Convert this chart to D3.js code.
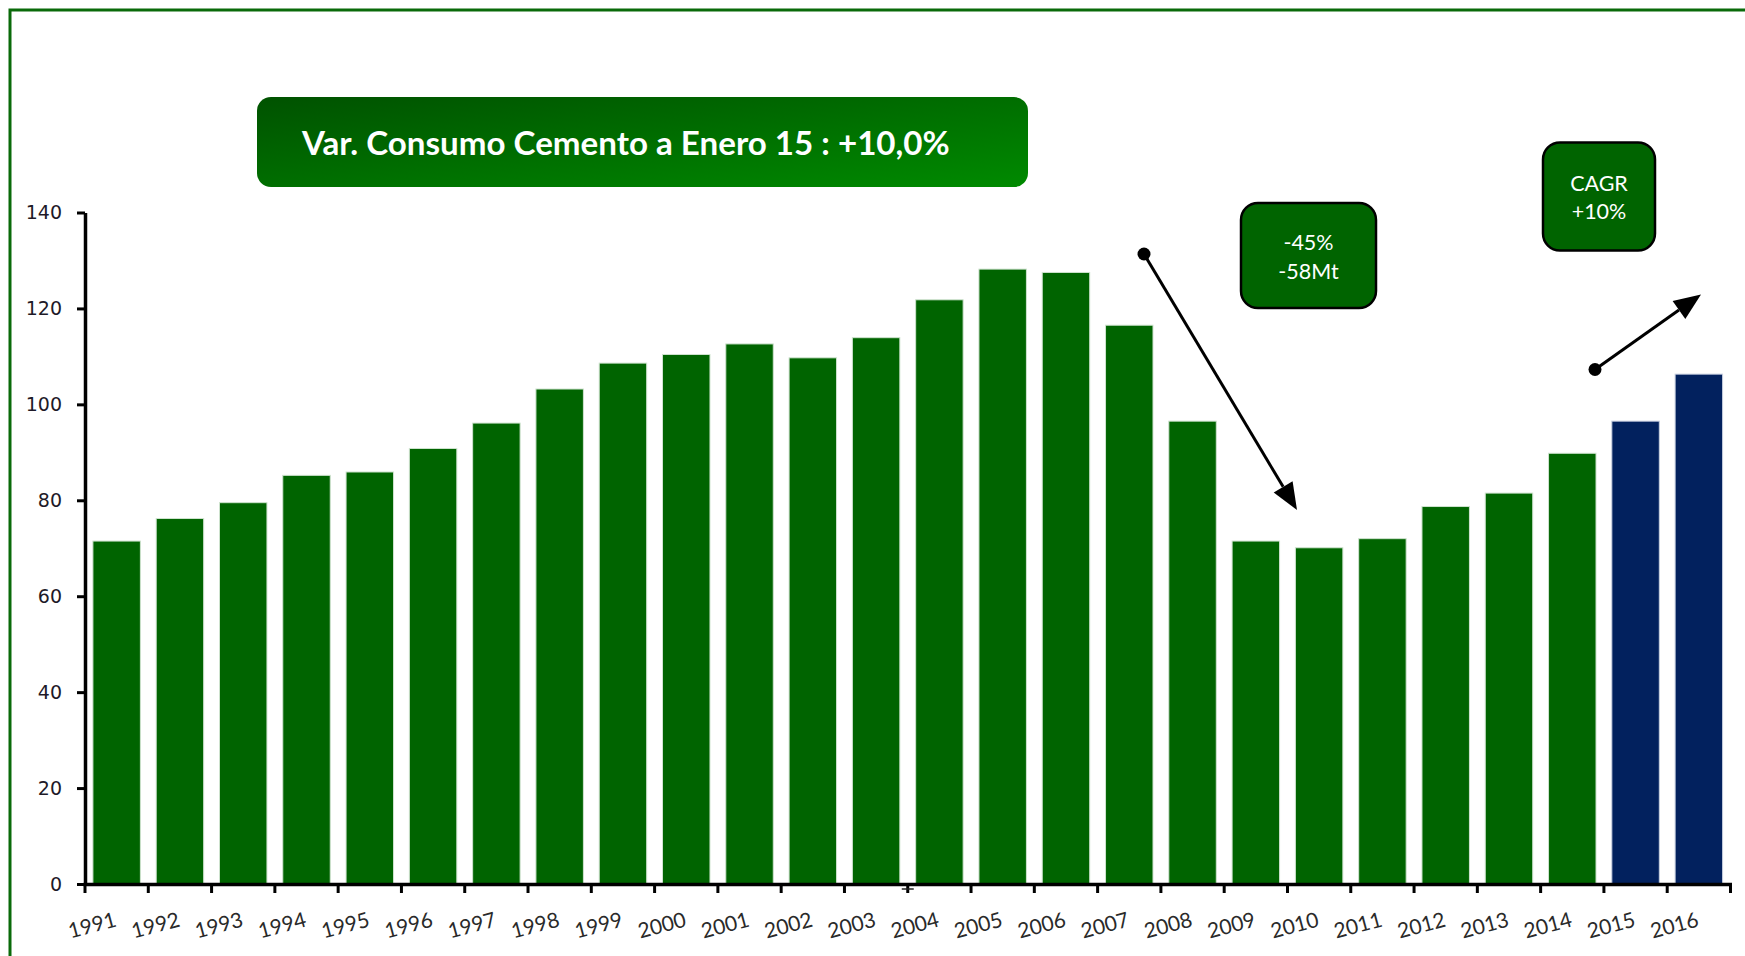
<!DOCTYPE html>
<html>
<head>
<meta charset="utf-8">
<script src="https://cdn.jsdelivr.net/npm/d3@7"></script>
<style>
  html, body { margin: 0; padding: 0; background: #ffffff; }
  svg { display: block; }
</style>
</head>
<body>
<svg id="chart" width="1745" height="956"></svg>
<script>
// ---- data ----
const years = ["1991","1992","1993","1994","1995","1996","1997","1998","1999","2000","2001","2002","2003","2004","2005","2006","2007","2008","2009","2010","2011","2012","2013","2014","2015","2016"];
const consumption = [71.5,76.2,79.5,85.2,85.9,90.8,96.1,103.2,108.6,110.4,112.6,109.7,113.9,121.8,128.2,127.5,116.5,96.5,71.5,70.1,72.0,78.7,81.5,89.8,96.5,106.3];
const forecastYears = ["2015","2016"];
const yTicks = [0,20,40,60,80,100,120,140];
const titleText = "Var. Consumo Cemento a Enero 15 : +10,0%";
const dropLabel = ["-45%", "-58Mt"];
const cagrLabel = ["CAGR", "+10%"];

const svg = d3.select("#chart");

// outer frame
svg.append("path")
  .attr("d", "M10,960 L10,10 L1750,10")
  .attr("fill", "none").attr("stroke", "#0a6a0a").attr("stroke-width", 3);

// scales
const x = d3.scaleBand().domain(years).range([85, 1730.5]).paddingInner(0.25).paddingOuter(0.125);
const y = d3.scaleLinear().domain([0, 140]).range([884, 212.5]);

// bars
svg.append("g").selectAll("rect").data(years).join("rect")
  .attr("x", d => x(d))
  .attr("width", x.bandwidth())
  .attr("y", (d, i) => y(consumption[i]))
  .attr("height", (d, i) => y(0) - y(consumption[i]))
  .attr("fill", d => forecastYears.includes(d) ? "#02215e" : "#006400")
  .attr("stroke", d => forecastYears.includes(d) ? "#c9d0e0" : "#cfe3cf")
  .attr("stroke-width", 1);

// y axis
const yAxis = svg.append("g").attr("transform", "translate(85,0)")
  .call(d3.axisLeft(y).tickValues(yTicks).tickSize(8).tickSizeOuter(0).tickPadding(15));
yAxis.select(".domain").attr("stroke", "#000").attr("stroke-width", 3.5);
yAxis.selectAll(".tick line").attr("stroke", "#000").attr("stroke-width", 3);
yAxis.selectAll(".tick text")
  .attr("font-family", "'DejaVu Sans', sans-serif").attr("font-size", 19).attr("fill", "#1e1a28");

// x axis: ticks at category boundaries
const step = x.step();
const boundaries = d3.range(years.length + 1).map(i => 85 + i * step);
const xg = svg.append("g");
xg.append("line").attr("x1", 83.5).attr("x2", 1732).attr("y1", 884.5).attr("y2", 884.5)
  .attr("stroke", "#000").attr("stroke-width", 3.5);
xg.selectAll("line.tk").data(boundaries).join("line").attr("class", "tk")
  .attr("x1", d => d).attr("x2", d => d).attr("y1", 884).attr("y2", 893)
  .attr("stroke", "#000").attr("stroke-width", 3);
// small crosshair mark at 2003/2004 boundary
xg.append("line").attr("x1", boundaries[13] - 6).attr("x2", boundaries[13] + 6)
  .attr("y1", 889).attr("y2", 889).attr("stroke", "#222").attr("stroke-width", 1.5);

xg.selectAll("text").data(years).join("text")
  .attr("transform", d => `translate(${x(d) + x.bandwidth() / 2 + 1},926) rotate(-15)`)
  .attr("text-anchor", "end")
  .attr("font-family", "Lato, 'Open Sans', sans-serif").attr("font-size", 21)
  .attr("fill", "#2a2a2a")
  .text(d => d);

// title box
const defs = svg.append("defs");
const grad = defs.append("linearGradient").attr("id", "tg")
  .attr("x1", "0").attr("y1", "0").attr("x2", "1").attr("y2", "1");
grad.append("stop").attr("offset", "0%").attr("stop-color", "#005200");
grad.append("stop").attr("offset", "100%").attr("stop-color", "#008a00");
svg.append("rect").attr("x", 257).attr("y", 97).attr("width", 771).attr("height", 90)
  .attr("rx", 14).attr("fill", "url(#tg)");
const tt = svg.append("text").attr("x", 302).attr("y", 155)
  .attr("font-family", "Lato, 'Open Sans', sans-serif").attr("font-weight", "bold")
  .attr("font-size", 30).attr("fill", "#ffffff").text(titleText);
const tw = tt.node().getComputedTextLength();
if (tw > 0) tt.attr("font-size", 30 * 648 / tw);

// annotation boxes
function noteBox(x0, y0, w, h, lines, baselines) {
  svg.append("rect").attr("x", x0).attr("y", y0).attr("width", w).attr("height", h)
    .attr("rx", 17).attr("fill", "#006400").attr("stroke", "#000").attr("stroke-width", 2.5);
  svg.append("g").selectAll("text").data(lines).join("text")
    .attr("x", x0 + w / 2).attr("y", (d, i) => baselines[i])
    .attr("text-anchor", "middle")
    .attr("font-family", "Lato, 'Open Sans', sans-serif").attr("font-size", 21.5)
    .attr("fill", "#ffffff").text(d => d);
}
noteBox(1241, 203, 135, 105, dropLabel, [250, 279]);
noteBox(1543, 142.5, 112, 108, cagrLabel, [191, 219]);

// arrows
function arrow(x1, y1, x2, y2) {
  const ang = Math.atan2(y2 - y1, x2 - x1);
  const L = 27, W = 11;
  const bx = x2 - L * Math.cos(ang), by = y2 - L * Math.sin(ang);
  svg.append("line").attr("x1", x1).attr("y1", y1).attr("x2", bx).attr("y2", by)
    .attr("stroke", "#000").attr("stroke-width", 3);
  svg.append("circle").attr("cx", x1).attr("cy", y1).attr("r", 6.5).attr("fill", "#000");
  const px = -Math.sin(ang) * W, py = Math.cos(ang) * W;
  svg.append("path")
    .attr("d", `M${x2},${y2} L${bx + px},${by + py} L${bx - px},${by - py} Z`)
    .attr("fill", "#000");
}
arrow(1144, 254, 1297, 510);
arrow(1595, 369.5, 1701, 294.5);
</script>
</body>
</html>
